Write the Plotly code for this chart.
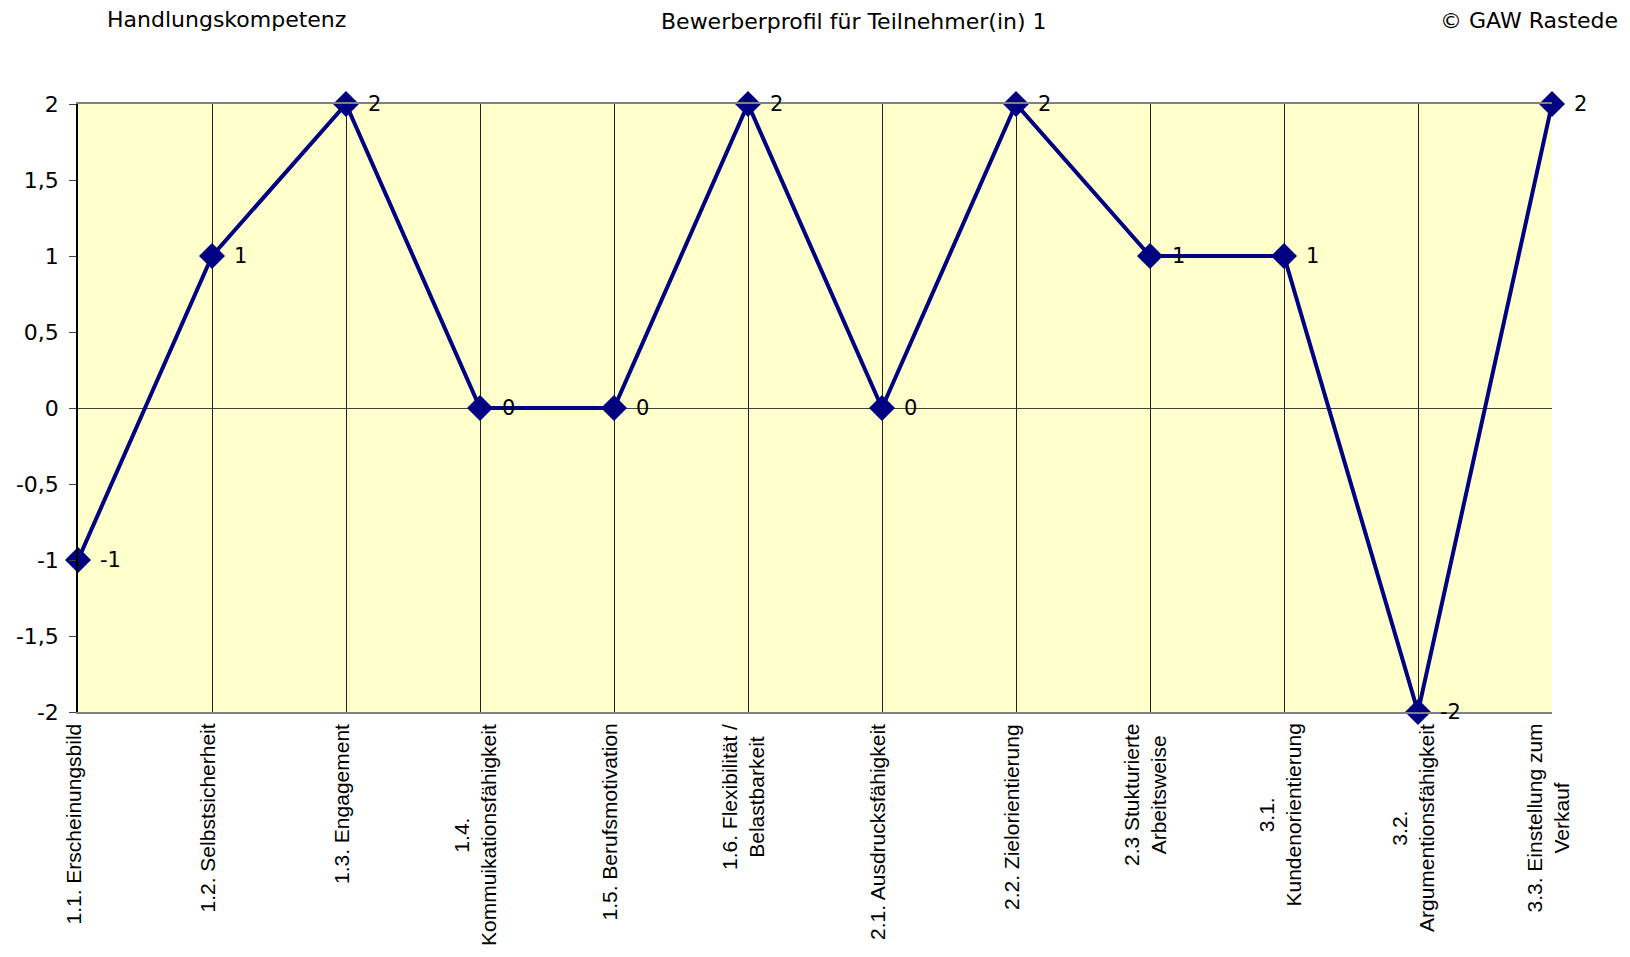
import plotly.graph_objects as go

# ---- data ----
categories = [
    "1.1. Erscheinungsbild",
    "1.2. Selbstsicherheit",
    "1.3. Engagement",
    "1.4.<br>Kommuikationsfähigkeit",
    "1.5. Berufsmotivation",
    "1.6. Flexibilität /<br>Belastbarkeit",
    "2.1. Ausdrucksfähigkeit",
    "2.2. Zielorientierung",
    "2.3 Stukturierte<br>Arbeitsweise",
    "3.1.<br>Kundenorientierung",
    "3.2.<br>Argumentionsfähigkeit",
    "3.3. Einstellung zum<br>Verkauf",
]
values = [-1, 1, 2, 0, 0, 2, 0, 2, 1, 1, -2, 2]
y_tick_vals = [-2, -1.5, -1, -0.5, 0, 0.5, 1, 1.5, 2]
y_tick_text = ["-2", "-1,5", "-1", "-0,5", "0", "0,5", "1", "1,5", "2"]

title_left = "Handlungskompetenz"
title_center = "Bewerberprofil für Teilnehmer(in) 1"
title_right = "© GAW Rastede"

FONT = "Arial, Liberation Sans, sans-serif"
WIDE = "DejaVu Sans, Arial, sans-serif"
NAVY = "#000080"

# plot area in screen pixels (page body has an 8px margin)
PL, PR, PT, PB = 78, 1552, 104, 712
PW, PH = PR - PL, PB - PT

idx = list(range(len(categories)))

fig = go.Figure()
fig.add_trace(go.Scatter(
    x=idx, y=values, mode="lines+markers",
    line=dict(color=NAVY, width=4),
    marker=dict(symbol="diamond", size=20, color=NAVY),
    cliponaxis=False, showlegend=False, hoverinfo="skip",
))

annotations = []
# data labels
for i, v in zip(idx, values):
    annotations.append(dict(
        x=i, y=v, xref="x", yref="y", text=str(v), showarrow=False,
        xanchor="left", yanchor="middle", xshift=20,
        font=dict(family=WIDE, size=21, color="black"),
    ))
# category labels (rotated, lines centred)
for i, c in zip(idx, categories):
    annotations.append(dict(
        x=i, y=0, xref="x", yref="paper", text=c, showarrow=False,
        textangle=-90, xanchor="center", yanchor="top", yshift=-10, xshift=-5,
        align="center",
        font=dict(family=FONT, size=21, color="black"),
    ))
# titles
annotations += [
    dict(x=(105 - PL) / PW, y=(PB - 19) / PH, xref="paper", yref="paper",
         text=title_left, showarrow=False, xanchor="left", yanchor="middle",
         font=dict(family=WIDE, size=22, color="black")),
    dict(x=(854 - PL) / PW, y=(PB - 22) / PH, xref="paper", yref="paper",
         text=title_center, showarrow=False, xanchor="center", yanchor="middle",
         font=dict(family=WIDE, size=22, color="black")),
    dict(x=(1620 - PL) / PW, y=(PB - 20) / PH, xref="paper", yref="paper",
         text=title_right, showarrow=False, xanchor="right", yanchor="middle",
         font=dict(family=WIDE, size=22, color="black")),
]

fig.update_layout(
    width=1630, height=957,
    margin=dict(l=PL - 8, r=1630 - PR + 8, t=PT - 8, b=957 - PB + 8, pad=0,
                autoexpand=False),
    paper_bgcolor="white",
    plot_bgcolor="#FFFFCC",
    font=dict(family=FONT, size=20, color="black"),
    annotations=annotations,
    showlegend=False,
)
fig.update_xaxes(
    type="linear", range=[0, len(categories) - 1], automargin=False,
    tickvals=idx, showticklabels=False, ticks="",
    showgrid=True, gridcolor="#202020", gridwidth=1,
    showline=True, linecolor="#808080", linewidth=2, mirror=True,
    zeroline=False,
)
fig.update_yaxes(
    range=[-2, 2], tickvals=y_tick_vals, ticktext=y_tick_text, automargin=False,
    ticks="outside", ticklen=7, tickcolor="#404040", tickwidth=1,
    ticklabelstandoff=6,
    tickfont=dict(family=WIDE, size=22, color="black"),
    showgrid=False,
    zeroline=True, zerolinecolor="#404040", zerolinewidth=1,
    showline=True, linecolor="black", linewidth=1.5,
)

fig.write_html("out.html")
